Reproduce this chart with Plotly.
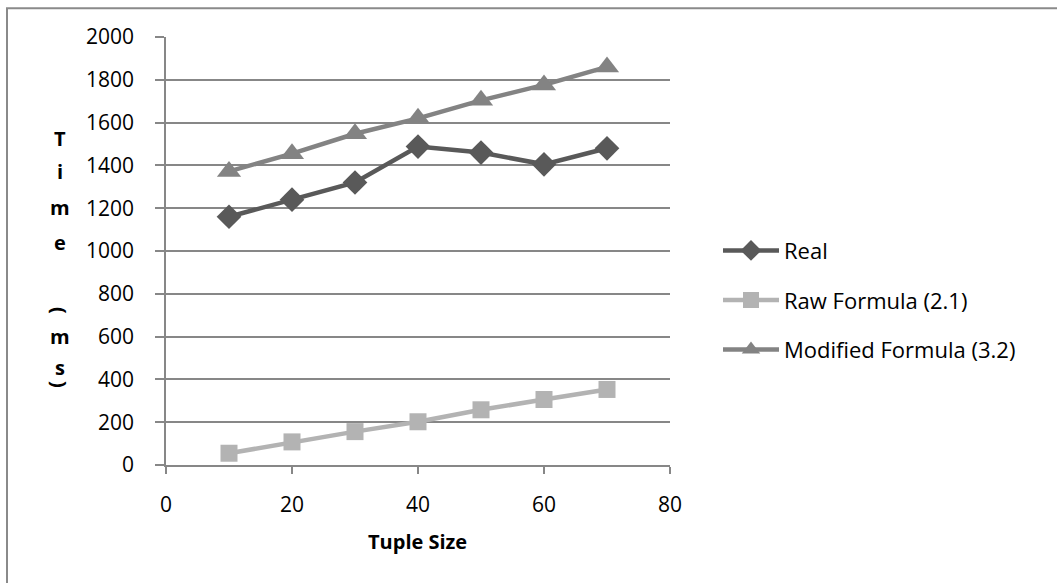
import plotly.graph_objects as go

# Tuple size on the x axis, timings in milliseconds
tuple_size = [10, 20, 30, 40, 50, 60, 70]
real_ms = [1160, 1240, 1320, 1488, 1460, 1405, 1480]
raw_formula_ms = [55, 108, 156, 202, 258, 306, 353]
modified_formula_ms = [1372, 1455, 1548, 1620, 1704, 1776, 1860]

y_ticks = [0, 200, 400, 600, 800, 1000, 1200, 1400, 1600, 1800, 2000]
x_ticks = [0, 20, 40, 60, 80]

FONT = "Open Sans"
GRID = "#878787"

fig = go.Figure()

series = [
    ("Real", real_ms, "#595959", "diamond", 19),
    ("Raw Formula (2.1)", raw_formula_ms, "#b3b3b3", "square", 17),
    ("Modified Formula (3.2)", modified_formula_ms, "#838383", "triangle-up", 21),
]
for i, (name, vals, color, sym, size) in enumerate(series):
    fig.add_trace(go.Scatter(
        x=tuple_size, y=vals, name=name, mode="lines+markers",
        line=dict(color=color, width=4.5),
        marker=dict(symbol=sym, size=size, color=color, line=dict(width=0)),
        legendgroup=f"g{i}",
    ))

fig.update_xaxes(
    range=[0, 80], tickvals=x_ticks, showgrid=False, zeroline=False,
    showline=True, linecolor=GRID, linewidth=1.5,
    ticks="outside", ticklen=7, tickwidth=1.5, tickcolor=GRID,
    ticklabelstandoff=13,
    tickfont=dict(family=FONT, size=21, color="#000000"),
)
fig.update_yaxes(
    range=[0, 2000], tickvals=y_ticks, showgrid=True, gridcolor=GRID, gridwidth=1.5,
    zeroline=False, showline=True, linecolor=GRID, linewidth=1.5,
    ticks="outside", ticklen=9, tickwidth=1.5, tickcolor=GRID,
    ticklabelstandoff=17,
    tickfont=dict(family=FONT, size=21, color="#000000"),
)

# Axis titles: x title below the axis, y title stacked letter by letter
annotations = [dict(
    text="<b>Tuple Size</b>", x=(417 - 166) / 504, y=(465 - 542) / 428.3,
    xref="paper", yref="paper",
    showarrow=False, font=dict(family=FONT, size=20, color="#000000"),
    xanchor="center", yanchor="middle",
)]
stack = [("T", 138, 0), ("i", 171, 0), ("m", 207, 0), ("e", 242, 0),
         ("(", 310, 90), ("m", 336, 0), ("s", 367, 0), (")", 384, 90)]
for ch, py, ang in stack:
    annotations.append(dict(
        text=f"<b>{ch}</b>", x=(60 - 166) / 504, y=(465 - py) / 428.3,
        xref="paper", yref="paper", showarrow=False, textangle=ang,
        font=dict(family=FONT, size=20, color="#000000"),
        xanchor="center", yanchor="middle",
    ))

fig.update_layout(
    width=1057, height=583,
    margin=dict(l=166, r=387, t=37, b=118),
    paper_bgcolor="white", plot_bgcolor="white",
    showlegend=True,
    legend=dict(
        x=(718 - 166) / 504, y=(465 - 300) / 428.3, xanchor="left", yanchor="middle",
        font=dict(family=FONT, size=22, color="#000000"),
        tracegroupgap=18, itemwidth=56, traceorder="grouped",
        bgcolor="rgba(0,0,0,0)",
    ),
    annotations=annotations,
    shapes=[dict(
        type="rect", xref="paper", yref="paper",
        x0=(7 - 166) / 504, x1=(1070 - 166) / 504,
        y0=(465 - 600) / 428.3, y1=(465 - 8) / 428.3,
        line=dict(color="#8a8a8a", width=2), fillcolor="rgba(0,0,0,0)", layer="below",
    )],
)

fig.write_html("out.html")
